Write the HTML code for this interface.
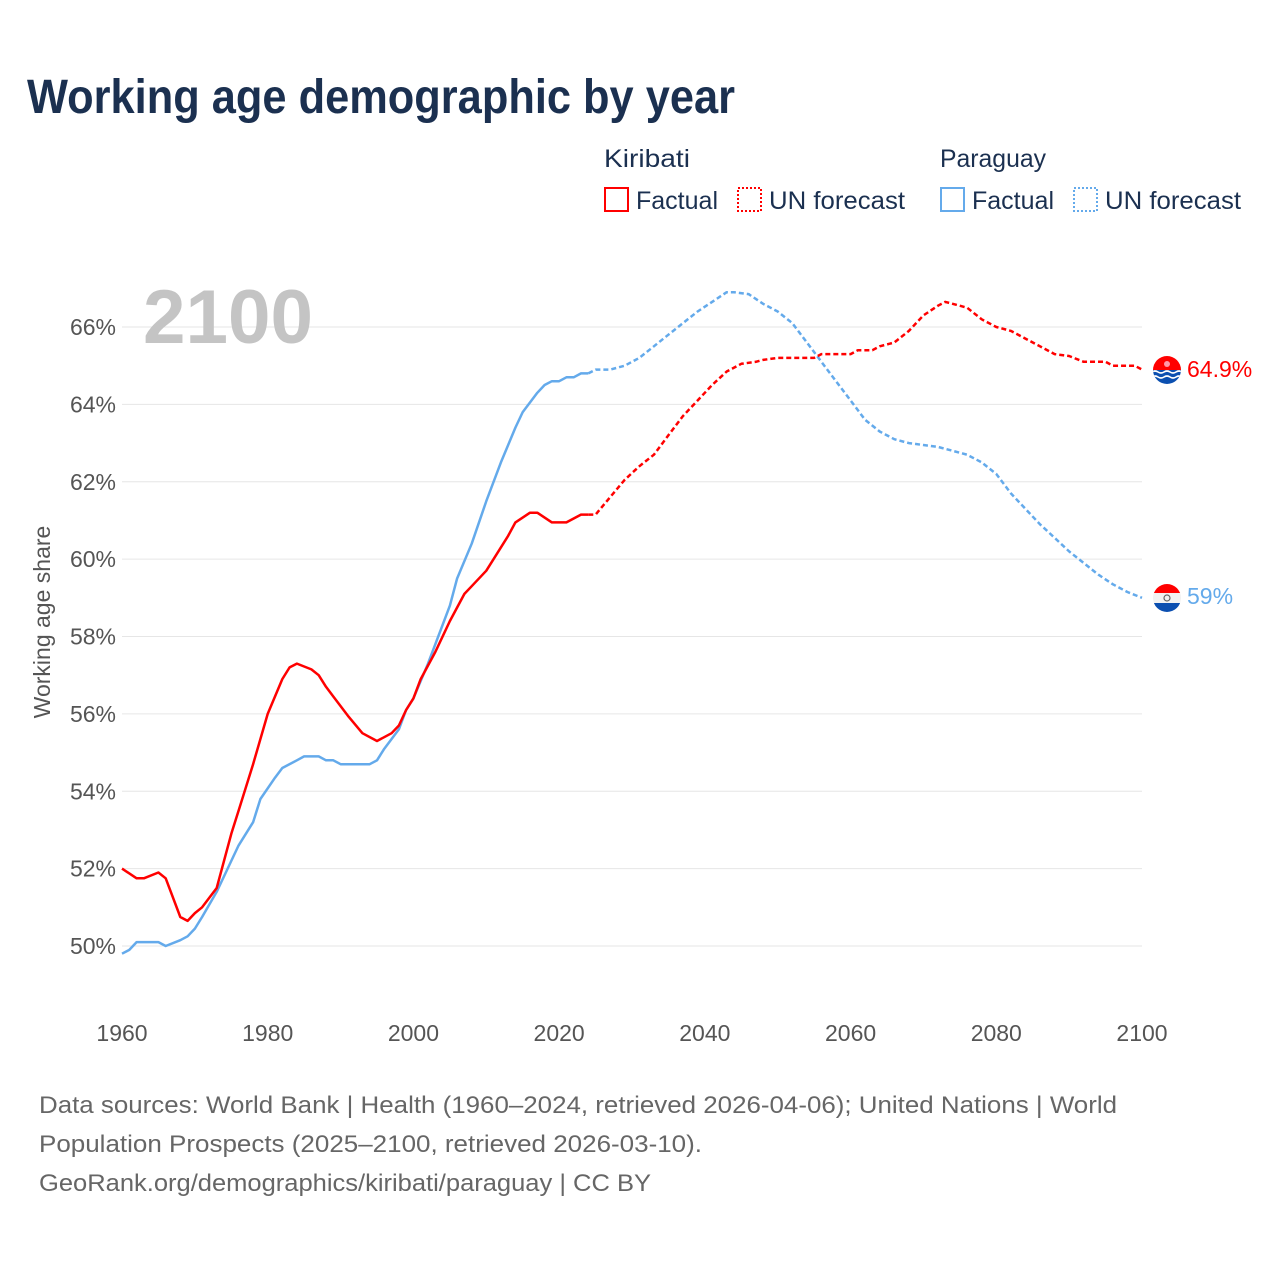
<!DOCTYPE html>
<html><head><meta charset="utf-8">
<style>
html,body{margin:0;padding:0;background:#fff;}
svg{display:block;font-family:"Liberation Sans",sans-serif;}
</style></head>
<body>
<svg id="chart" width="1280" height="1280" viewBox="0 0 1280 1280">
<text x="27" y="113" font-size="48" font-weight="bold" fill="#1b3050" textLength="708" lengthAdjust="spacingAndGlyphs">Working age demographic by year</text>
<g font-size="25" fill="#1b3050">
<text x="604" y="167" textLength="86" lengthAdjust="spacingAndGlyphs">Kiribati</text>
<text x="940" y="167" textLength="106" lengthAdjust="spacingAndGlyphs">Paraguay</text>
<g><rect x="605" y="188" width="23" height="23" fill="none" stroke="#ff0000" stroke-width="2"/><text x="636" y="209" textLength="82" lengthAdjust="spacingAndGlyphs">Factual</text></g>
<g><rect x="738" y="188" width="23" height="23" fill="none" stroke="#ff0000" stroke-width="2" stroke-dasharray="2,2"/><text x="769" y="209" textLength="136" lengthAdjust="spacingAndGlyphs">UN forecast</text></g>
<g><rect x="941" y="188" width="23" height="23" fill="none" stroke="#64aaeb" stroke-width="2"/><text x="972" y="209" textLength="82" lengthAdjust="spacingAndGlyphs">Factual</text></g>
<g><rect x="1074" y="188" width="23" height="23" fill="none" stroke="#64aaeb" stroke-width="2" stroke-dasharray="2,2"/><text x="1105" y="209" textLength="136" lengthAdjust="spacingAndGlyphs">UN forecast</text></g>
</g>
<g id="grid"></g>
<text x="143" y="343" font-size="76" font-weight="bold" fill="#c4c4c4" textLength="170" lengthAdjust="spacingAndGlyphs">2100</text>
<g id="yticks" font-size="23" fill="#555" text-anchor="end"></g>
<g id="xticks" font-size="23" fill="#555" text-anchor="middle"></g>
<text transform="translate(50,622) rotate(-90)" font-size="23" fill="#555" text-anchor="middle">Working age share</text>
<g id="series"></g>
<g>
<g>
<clipPath id="ck"><circle cx="1167" cy="370" r="14"/></clipPath>
<g clip-path="url(#ck)"><rect x="1150" y="355" width="34" height="16" fill="#f00"/><rect x="1150" y="370" width="34" height="16" fill="#0b4fb0"/><path d="M1152 372 q3 -2 6 0 t6 0 t6 0 t6 0 t6 0 M1152 377 q3 -2 6 0 t6 0 t6 0 t6 0 t6 0" stroke="#fff" stroke-width="1.6" fill="none"/><circle cx="1167" cy="364" r="3" fill="#f9a"/></g>
</g>
<g>
<clipPath id="cp"><circle cx="1167" cy="598" r="14"/></clipPath>
<g clip-path="url(#cp)"><rect x="1150" y="583" width="34" height="10" fill="#f00"/><rect x="1150" y="593" width="34" height="10" fill="#f2f2f2"/><rect x="1150" y="603" width="34" height="10" fill="#0b4fb0"/><circle cx="1167" cy="598" r="3" fill="none" stroke="#666" stroke-width="1.2"/></g>
</g>
<text x="1187" y="377" font-size="23" fill="#f00">64.9%</text>
<text x="1187" y="604" font-size="23" fill="#64aaeb">59%</text>
</g>
<g font-size="24" fill="#666">
<text x="39" y="1113" textLength="1078" lengthAdjust="spacingAndGlyphs">Data sources: World Bank | Health (1960–2024, retrieved 2026-04-06); United Nations | World</text>
<text x="39" y="1152" textLength="663" lengthAdjust="spacingAndGlyphs">Population Prospects (2025–2100, retrieved 2026-03-10).</text>
<text x="39" y="1191" textLength="612" lengthAdjust="spacingAndGlyphs">GeoRank.org/demographics/kiribati/paraguay | CC BY</text>
</g>
</svg>
<script>
const yTicks = [50, 52, 54, 56, 58, 60, 62, 64, 66];
const xTicks = [1960, 1980, 2000, 2020, 2040, 2060, 2080, 2100];
const kiribatiFactualYears = [1960,1962,1963,1965,1966,1968,1969,1970,1971,1973,1975,1976,1978,1980,1982,1983,1984,1986,1987,1988,1989,1991,1993,1995,1997,1998,1999,2000,2001,2003,2005,2007,2008,2010,2011,2013,2014,2016,2017,2019,2021,2023,2024];
const kiribatiFactual = [52.0,51.75,51.75,51.9,51.75,50.75,50.65,50.85,51.0,51.5,52.9,53.5,54.7,56.0,56.9,57.2,57.3,57.15,57.0,56.7,56.45,55.95,55.5,55.3,55.5,55.7,56.1,56.4,56.9,57.6,58.4,59.1,59.3,59.7,60.0,60.6,60.95,61.2,61.2,60.95,60.95,61.15,61.15];
const kiribatiForecastYears = [2024,2025,2027,2029,2031,2033,2035,2037,2039,2041,2043,2045,2047,2048,2050,2055,2056,2060,2061,2063,2064,2066,2068,2070,2072,2073,2074,2076,2078,2080,2082,2084,2086,2088,2090,2092,2095,2096,2099,2100];
const kiribatiForecast = [61.15,61.15,61.6,62.05,62.4,62.7,63.2,63.7,64.1,64.5,64.85,65.05,65.1,65.15,65.2,65.2,65.3,65.3,65.4,65.4,65.5,65.6,65.9,66.3,66.55,66.65,66.6,66.5,66.2,66.0,65.9,65.7,65.5,65.3,65.25,65.1,65.1,65.0,65.0,64.9];
const paraguayFactualYears = [1960,1961,1962,1965,1966,1968,1969,1970,1971,1973,1974,1976,1978,1979,1981,1982,1984,1985,1987,1988,1989,1990,1994,1995,1996,1998,1999,2000,2002,2004,2005,2006,2008,2010,2012,2014,2015,2017,2018,2019,2020,2021,2022,2023,2024];
const paraguayFactual = [49.8,49.9,50.1,50.1,50.0,50.15,50.25,50.45,50.75,51.4,51.8,52.6,53.2,53.8,54.35,54.6,54.8,54.9,54.9,54.8,54.8,54.7,54.7,54.8,55.1,55.6,56.1,56.4,57.3,58.3,58.8,59.5,60.4,61.5,62.5,63.4,63.8,64.3,64.5,64.6,64.6,64.7,64.7,64.8,64.8];
const paraguayForecastYears = [2024,2025,2027,2029,2031,2033,2035,2037,2039,2041,2043,2044,2046,2048,2050,2052,2054,2056,2058,2060,2062,2064,2066,2068,2070,2072,2074,2076,2078,2080,2082,2084,2086,2088,2090,2092,2094,2096,2098,2100];
const paraguayForecast = [64.8,64.9,64.9,65.0,65.2,65.5,65.8,66.1,66.4,66.65,66.9,66.9,66.85,66.6,66.4,66.1,65.6,65.1,64.6,64.1,63.6,63.3,63.1,63.0,62.95,62.9,62.8,62.7,62.5,62.2,61.7,61.3,60.9,60.55,60.2,59.9,59.6,59.35,59.15,59.0];

const NS = "http://www.w3.org/2000/svg";
const X0 = 122, X1 = 1142, Y0 = 946, Y1 = 327;
function xScale(yr){ return X0 + (yr - 1960) / 140 * (X1 - X0); }
function yScale(v){ return Y0 + (v - 50) / 16 * (Y1 - Y0); }

const grid = document.getElementById('grid');
const yg = document.getElementById('yticks');
yTicks.forEach(t => {
  const l = document.createElementNS(NS, 'line');
  l.setAttribute('x1', X0); l.setAttribute('x2', X1);
  l.setAttribute('y1', yScale(t)); l.setAttribute('y2', yScale(t));
  l.setAttribute('stroke', '#e6e6e6'); l.setAttribute('stroke-width', '1');
  
  
  grid.appendChild(l);
  const tx = document.createElementNS(NS, 'text');
  tx.setAttribute('x', 116); tx.setAttribute('y', yScale(t) + 8);
  tx.textContent = t + '%';
  
  
  yg.appendChild(tx);
});
const xg = document.getElementById('xticks');
xTicks.forEach(t => {
  const tx = document.createElementNS(NS, 'text');
  tx.setAttribute('x', xScale(t)); tx.setAttribute('y', 1041);
  tx.textContent = t;
  
  
  xg.appendChild(tx);
});
const sg = document.getElementById('series');
function drawLine(years, vals, color, dashed, name){
  const p = document.createElementNS(NS, 'path');
  p.setAttribute('d', years.map((y, i) => (i ? 'L' : 'M') + xScale(y).toFixed(1) + ' ' + yScale(vals[i]).toFixed(1)).join(' '));
  p.setAttribute('fill', 'none'); p.setAttribute('stroke', color);
  p.setAttribute('stroke-width', '2.5');
  p.setAttribute('stroke-linejoin', 'round');
  if (dashed) p.setAttribute('stroke-dasharray', '5,3');
  
  
  sg.appendChild(p);
}
drawLine(paraguayFactualYears, paraguayFactual, '#64aaeb', false, 'paraguay-factual-line');
drawLine(paraguayForecastYears, paraguayForecast, '#64aaeb', true, 'paraguay-forecast-line');
drawLine(kiribatiFactualYears, kiribatiFactual, '#ff0000', false, 'kiribati-factual-line');
drawLine(kiribatiForecastYears, kiribatiForecast, '#ff0000', true, 'kiribati-forecast-line');
</script>
</body></html>
